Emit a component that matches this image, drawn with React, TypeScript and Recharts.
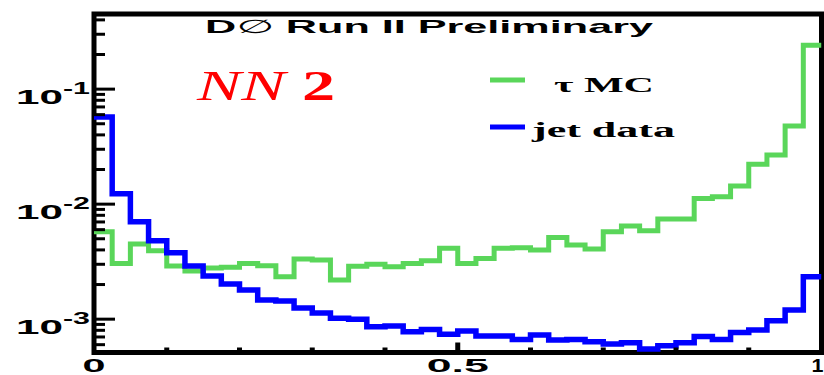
import React from "react";
import { ComposedChart, Line, XAxis, YAxis, ReferenceArea, Customized } from "recharts";

// NN output, 40 bins from 0 to 1, normalised
const TAU_MC = [
  5.75e-3, 3.05e-3, 4.5e-3, 3.94e-3, 2.9e-3, 2.62e-3, 2.78e-3, 2.82e-3, 3.05e-3, 2.91e-3,
  2.34e-3, 3.34e-3, 3.27e-3, 2.19e-3, 2.88e-3, 3.0e-3, 2.86e-3, 3.05e-3, 3.22e-3, 4.13e-3,
  3.05e-3, 3.37e-3, 4.13e-3, 4.18e-3, 3.99e-3, 5.14e-3, 4.41e-3, 4.07e-3, 5.75e-3, 6.45e-3,
  5.87e-3, 7.42e-3, 7.42e-3, 1.12e-2, 1.16e-2, 1.44e-2, 2.22e-2, 2.67e-2, 4.78e-2, 0.241,
];
const JET_DATA = [
  5.71e-2, 1.23e-2, 7.03e-3, 4.81e-3, 3.78e-3, 2.9e-3, 2.37e-3, 2.02e-3, 1.79e-3, 1.47e-3,
  1.44e-3, 1.25e-3, 1.13e-3, 1.02e-3, 1.0e-3, 8.59e-4, 8.71e-4, 7.77e-4, 8.15e-4, 7.38e-4,
  7.89e-4, 7.13e-4, 7.13e-4, 6.67e-4, 7.27e-4, 6.58e-4, 6.67e-4, 6.35e-4, 6.07e-4, 6.24e-4,
  5.5e-4, 5.87e-4, 6.24e-4, 7.06e-4, 6.67e-4, 7.67e-4, 8.03e-4, 9.68e-4, 1.2e-3, 2.34e-3,
];
const N_BINS = 40;
const BIN_EDGES = Array.from({ length: N_BINS + 1 }, (_, i) => i / N_BINS);

const X_TICKS = [0, 0.1, 0.2, 0.3, 0.4, 0.5, 0.6, 0.7, 0.8, 0.9, 1];
const X_LABELS: Record<string, string> = { "0": "0", "0.5": "0.5", "1": "1" };
const Y_TICKS = [
  6e-4, 7e-4, 8e-4, 9e-4, 1e-3, 2e-3, 3e-3, 4e-3, 5e-3, 6e-3, 7e-3, 8e-3, 9e-3,
  1e-2, 2e-2, 3e-2, 4e-2, 5e-2, 6e-2, 7e-2, 8e-2, 9e-2, 1e-1, 2e-1, 3e-1, 4e-1,
];
const Y_MIN = 5.13e-4;
const Y_MAX = 0.45;

// stepAfter needs a closing point at x=1 carrying the last bin
const data = BIN_EDGES.map((x, i) => ({
  x,
  tau: TAU_MC[Math.min(i, N_BINS - 1)],
  jet: JET_DATA[Math.min(i, N_BINS - 1)],
}));

const GREEN = "#5ad65a";
const BLUE = "#0000ff";
const SANS = "'Liberation Sans', Arial, sans-serif";
const SERIF = "'Liberation Serif', 'Times New Roman', serif";

function YTick({ x, y, payload }: any) {
  const lg = Math.log10(payload.value);
  const major = Math.abs(lg - Math.round(lg)) < 1e-6;
  const len = major ? 21 : 11;
  return (
    <g>
      <line x1={x} x2={x + len} y1={y} y2={y} stroke="#000" strokeWidth={3} />
      {major && (
        <>
          <text x={x - 78} y={y + 15} fontFamily={SANS} fontWeight="bold" fontSize={21}
            textLength={47} lengthAdjust="spacingAndGlyphs" fill="#000">10</text>
          <text x={x - 31} y={y + 5} fontFamily={SANS} fontWeight="bold" fontSize={16}
            textLength={27} lengthAdjust="spacingAndGlyphs" fill="#000">{`-${-Math.round(lg)}`}</text>
        </>
      )}
    </g>
  );
}

function XTick({ x, y, payload }: any) {
  const v = Math.round(payload.value * 10) / 10;
  const label = X_LABELS[String(v)];
  const edge = v === 0 || v === 1;
  const len = v === 0.5 ? 10 : 5;
  const w = v === 0.5 ? 62 : v === 0 ? 23 : 12;
  const lx = v === 1 ? x - 4 : x;
  return (
    <g>
      {!edge && <line x1={x} x2={x} y1={y} y2={y - len} stroke="#000" strokeWidth={5} />}
      {label && (
        <text x={lx} y={y + 19} textAnchor="middle" fontFamily={SANS} fontWeight="bold"
          fontSize={19} textLength={w} lengthAdjust="spacingAndGlyphs" fill="#000">{label}</text>
      )}
    </g>
  );
}

function Overlay() {
  return (
    <g>
      <text x={205} y={33} fontFamily={SANS} fontWeight="bold" fontSize={19}
        textLength={448} lengthAdjust="spacingAndGlyphs" fill="#000">
        D<tspan fontWeight="normal" fontFamily="'DejaVu Sans', sans-serif">∅</tspan> Run II Preliminary
      </text>
      <text x={197} y={100} fontFamily={SERIF} fontSize={42} fill="#ff0000"
        textLength={138} lengthAdjust="spacingAndGlyphs">
        <tspan fontStyle="italic">NN</tspan> <tspan fontWeight="bold">2</tspan>
      </text>
      <line x1={490} x2={525} y1={80} y2={80} stroke={GREEN} strokeWidth={5} />
      <text x={554} y={92} fontFamily={SERIF} fontWeight="bold" fontSize={22}
        textLength={100} lengthAdjust="spacingAndGlyphs" fill="#000">τ MC</text>
      <line x1={490} x2={525} y1={127} y2={127} stroke={BLUE} strokeWidth={5} />
      <text x={532} y={137} fontFamily={SERIF} fontWeight="bold" fontSize={20}
        textLength={143} lengthAdjust="spacingAndGlyphs" fill="#000">jet data</text>
    </g>
  );
}

export default function App() {
  return (
    <div style={{ position: "absolute", left: 0, top: 0, width: 824, height: 375, background: "#fff" }}>
      <ComposedChart width={824} height={375} data={data}
        margin={{ top: 14, right: 2.5, bottom: 0, left: 0 }}>
        <XAxis dataKey="x" type="number" domain={[0, 1]} ticks={X_TICKS} interval={0}
          tick={<XTick />} tickLine={false} axisLine={false} tickSize={0} tickMargin={0}
          height={22.5} allowDataOverflow />
        <YAxis scale="log" domain={[Y_MIN, Y_MAX]} ticks={Y_TICKS} interval={0}
          tick={<YTick />} tickLine={false} axisLine={false} tickSize={0} tickMargin={0}
          width={94} allowDataOverflow />
        <Line dataKey="tau" type="stepAfter" stroke={GREEN} strokeWidth={5} dot={false}
          activeDot={false} isAnimationActive={false} strokeLinejoin="miter" />
        <Line dataKey="jet" type="stepAfter" stroke={BLUE} strokeWidth={5.5} dot={false}
          activeDot={false} isAnimationActive={false} strokeLinejoin="miter" />
        <ReferenceArea x1={0} x2={1} y1={Y_MIN} y2={Y_MAX} fill="none" fillOpacity={0}
          stroke="#000" strokeWidth={5} ifOverflow="visible" />
        <Customized component={Overlay} />
      </ComposedChart>
    </div>
  );
}
